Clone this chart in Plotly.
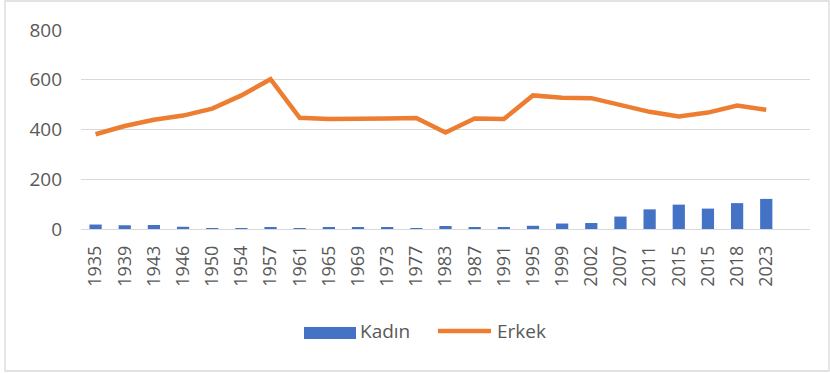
import plotly.graph_objects as go

# Election years (2015 appears twice: June and November elections)
years = ["1935", "1939", "1943", "1946", "1950", "1954", "1957", "1961",
         "1965", "1969", "1973", "1977", "1983", "1987", "1991", "1995",
         "1999", "2002", "2007", "2011", "2015", "2015", "2018", "2023"]

# Number of members by gender
kadin = [18, 15, 16, 9, 3, 4, 8, 3, 8, 5, 6, 4, 12, 6, 8, 13,
         22, 24, 50, 79, 98, 82, 104, 121]
erkek = [381, 414, 439, 456, 484, 537, 602, 447, 442, 445, 444, 446, 388,
         444, 442, 537, 528, 526, 500, 471, 452, 468, 496, 479]

y_ticks = [0, 200, 400, 600, 800]

BLUE = "#4472C4"
ORANGE = "#ED7D31"
GRID = "#D9D9D9"
TEXT = "#595959"
FONT = "Open Sans"

positions = list(range(len(years)))

fig = go.Figure()
fig.add_trace(go.Bar(x=positions, y=kadin, name="Kadın",
                     marker=dict(color=BLUE, line=dict(width=0)),
                     showlegend=False))
fig.add_trace(go.Scatter(x=positions, y=erkek, name="Erkek", mode="lines",
                         line=dict(color=ORANGE, width=4.5),
                         showlegend=False))

fig.update_layout(
    width=830, height=373,
    margin=dict(l=81, r=20, t=30, b=144),
    paper_bgcolor="white", plot_bgcolor="white",
    bargap=0.58,
    font=dict(family=FONT, size=19, color=TEXT),
    xaxis=dict(
        range=[-0.5, len(years) + 0.5],
        tickmode="array", tickvals=positions, ticktext=years,
        tickangle=-90, showgrid=False, zeroline=False,
        showline=False, ticks="", ticklabelstandoff=12,
        tickfont=dict(family=FONT, size=18, color=TEXT),
    ),
    yaxis=dict(
        range=[0, 800], tickmode="array", tickvals=y_ticks,
        showgrid=True, gridcolor=GRID, gridwidth=1.3,
        zeroline=True, zerolinecolor=GRID, zerolinewidth=1.3,
        showline=False, ticks="", ticklabelstandoff=18,
        tickfont=dict(family=FONT, size=19, color=TEXT),
    ),
    shapes=[
        # chart border
        dict(type="rect", xref="paper", yref="paper",
             x0=-76 / 729, x1=1 + 19 / 729, y0=-142 / 199, y1=1 + 29 / 199,
             line=dict(color=GRID, width=1.3), layer="below"),
        # legend swatches
        dict(type="rect", xref="paper", yref="paper",
             x0=(304 - 81) / 729, x1=(356 - 81) / 729,
             y0=(229 - 339) / 199, y1=(229 - 327) / 199,
             fillcolor=BLUE, line=dict(width=0)),
        dict(type="line", xref="paper", yref="paper",
             x0=(438 - 81) / 729, x1=(491 - 81) / 729,
             y0=(229 - 331) / 199, y1=(229 - 331) / 199,
             line=dict(color=ORANGE, width=4.5)),
    ],
    annotations=[
        dict(text="Kadın", xref="paper", yref="paper",
             x=(358 - 81) / 729, y=(229 - 331) / 199,
             xanchor="left", yanchor="middle", showarrow=False,
             font=dict(family=FONT, size=19, color=TEXT)),
        dict(text="Erkek", xref="paper", yref="paper",
             x=(495 - 81) / 729, y=(229 - 331) / 199,
             xanchor="left", yanchor="middle", showarrow=False,
             font=dict(family=FONT, size=19, color=TEXT)),
    ],
)

fig.write_html("out.html")
